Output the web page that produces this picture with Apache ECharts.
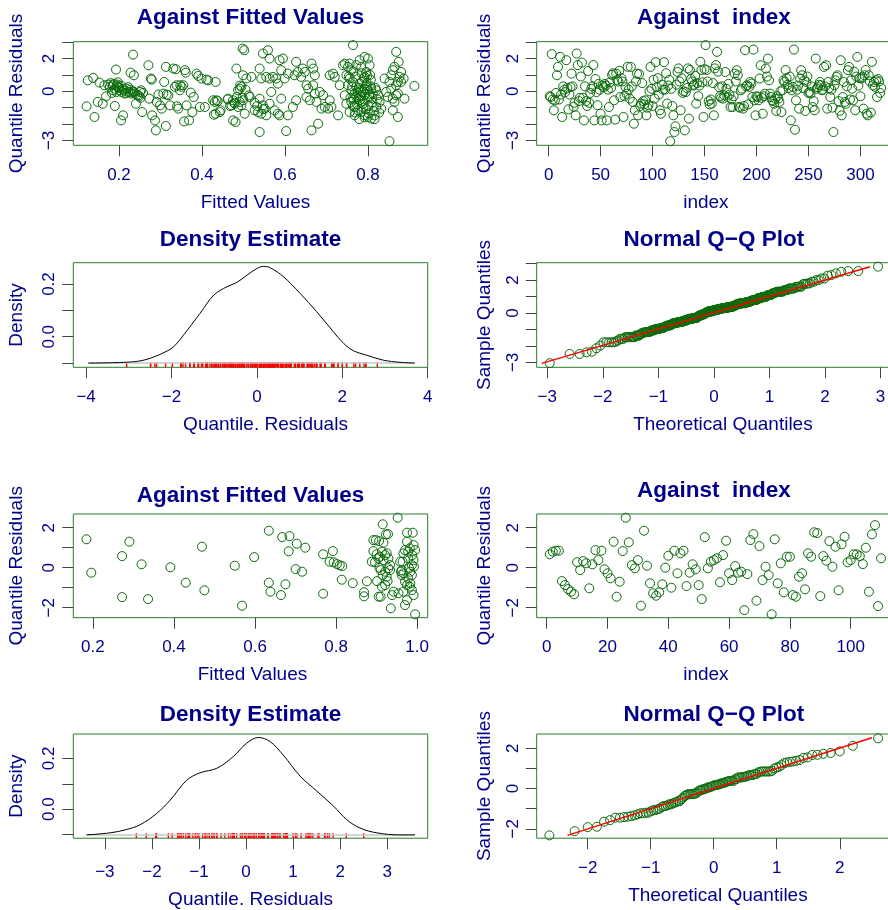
<!DOCTYPE html>
<html>
<head>
<meta charset="utf-8">
<title>Residual diagnostics</title>
<script src="https://cdn.jsdelivr.net/npm/echarts@6.0.0/dist/echarts.min.js"></script>
<style>
  html, body { margin: 0; padding: 0; background: #fff; }
  #main { width: 888px; height: 910px; }
</style>
</head>
<body>
<div id="main"></div>
<script>
// ---- model 1: (fitted value, quantile residual) pairs
var fitted1 = [
  [0.122,-0.92],[0.141,-1.57],[0.125,0.67],[0.138,0.82],[0.153,0.53],[0.149,-0.65],[0.161,-0.76],[0.169,-0.31],[0.165,0.37],[0.174,0.41],
  [0.178,0.27],[0.185,0.37],[0.190,0.16],[0.196,0.41],[0.199,0.27],[0.202,0.06],[0.194,-0.04],[0.186,0.06],[0.206,-0.04],[0.210,0.16],
  [0.214,-0.14],[0.218,0.16],[0.222,-0.04],[0.226,-0.04],[0.230,-0.14],[0.234,0.0],[0.238,-0.14],[0.244,-0.2],[0.251,-0.04],[0.253,0.06],
  [0.249,-0.31],[0.193,1.33],[0.190,-0.90],[0.205,-1.78],[0.210,-1.47],[0.234,2.24],[0.228,1.14],[0.236,0.98],[0.241,-0.76],[0.256,-1.27],
  [0.271,1.59],[0.277,0.78],[0.279,0.71],[0.273,-0.45],[0.280,-1.47],[0.287,-1.78],[0.289,-2.39],[0.291,-0.65],[0.295,-0.2],[0.299,-0.86],
  [0.303,-1.06],[0.307,-0.14],[0.309,0.57],[0.313,1.49],[0.315,-0.2],[0.313,-2.12],[0.319,-0.24],[0.323,-0.86],[0.331,1.39],[0.337,1.35],
  [0.335,0.27],[0.339,0.37],[0.340,-0.92],[0.343,-1.06],[0.347,0.06],[0.348,0.37],[0.351,0.27],[0.355,0.37],[0.359,1.29],[0.361,1.14],
  [0.357,-1.84],[0.363,-0.86],[0.369,-1.78],[0.373,-0.08],[0.377,-1.27],[0.380,-0.35],[0.387,1.08],[0.391,0.94],[0.395,-0.96],[0.399,0.78],
  [0.407,-0.96],[0.411,0.71],[0.415,0.67],[0.429,-1.43],[0.431,-0.65],[0.435,-0.55],[0.433,0.57],[0.443,-1.27],[0.463,-0.45],[0.471,-0.86],
  [0.475,-1.78],[0.481,-1.88],[0.483,1.39],[0.487,0.06],[0.491,0.16],[0.495,0.27],[0.491,-0.65],[0.498,2.61],[0.502,2.51],[0.499,0.98],
  [0.503,-1.37],[0.495,-0.86],[0.507,0.78],[0.479,-0.76],[0.487,-0.96],[0.499,-0.55],[0.475,-0.55],
  [0.519,0.88],[0.515,-0.35],[0.539,1.39],[0.547,2.31],[0.559,2.51],[0.563,2.0],[0.543,0.78],[0.555,0.88],[0.563,0.78],[0.571,0.88],
  [0.579,0.78],[0.583,0.47],[0.587,1.90],[0.595,2.0],[0.591,1.29],[0.599,0.78],[0.607,1.08],[0.539,-0.45],[0.547,-0.86],[0.551,-1.06],
  [0.543,-1.37],[0.555,-1.47],[0.527,-1.16],[0.535,-1.27],[0.567,-0.04],[0.563,-0.76],[0.575,-1.16],[0.583,-1.37],[0.587,-1.47],[0.591,-0.45],
  [0.607,-1.47],[0.619,-0.96],[0.627,-0.55],[0.539,-2.49],[0.603,-2.43],[0.627,1.80],[0.631,1.18],[0.623,0.98],[0.643,1.39],[0.639,0.88],
  [0.648,1.18],[0.652,0.37],[0.656,0.16],[0.652,-0.35],[0.660,-0.55],[0.664,1.69],[0.668,1.39],[0.672,0.98],[0.668,0.37],[0.672,-0.14],
  [0.676,-0.65],[0.684,-0.04],[0.692,-0.24],[0.688,-1.06],[0.696,-0.96],[0.708,-0.55],[0.704,-1.06],[0.712,-0.96],[0.664,-2.39],[0.680,-1.98],
  [0.728,-1.47],[0.708,0.98],[0.716,1.08],[0.720,0.88],[0.732,0.37],[0.740,1.59],[0.744,1.69],[0.752,1.49],[0.748,0.98],[0.760,1.29],
  [0.756,1.69],[0.764,2.82],[0.780,1.90],[0.784,1.49],[0.792,2.10],[0.800,2.0],[0.804,1.59],[0.796,1.18],[0.792,0.88],[0.744,-0.24],
  [0.748,-0.76],[0.752,0.37],[0.756,0.78],[0.760,0.06],[0.764,0.57],[0.768,-0.14],[0.772,0.27],[0.776,0.06],[0.780,0.47],[0.784,-0.24],
  [0.788,-0.04],[0.792,0.16],[0.796,0.37],[0.800,-0.45],[0.804,-0.14],[0.808,0.16],[0.760,-0.65],[0.768,-0.96],[0.776,-1.16],[0.784,-1.27],
  [0.792,-1.47],[0.800,-1.57],[0.808,-1.67],[0.816,-1.47],[0.820,-0.96],[0.824,-0.24],[0.828,-0.65],[0.832,-1.06],[0.756,-1.27],[0.780,-0.55],
  [0.768,-1.47],[0.772,-0.35],[0.788,-0.76],[0.812,-0.14],[0.820,0.06],[0.840,0.78],[0.844,-0.04],[0.848,-0.35],[0.852,0.57],[0.856,0.98],
  [0.860,1.29],[0.864,1.49],[0.856,0.16],[0.860,-0.45],[0.864,-0.65],[0.868,-0.24],[0.872,-0.14],[0.868,0.37],[0.872,0.57],[0.876,0.88],
  [0.880,1.18],[0.868,2.41],[0.874,1.80],[0.886,0.78],[0.888,-0.45],[0.880,0.57],[0.860,-1.16],[0.872,-1.57],[0.852,-3.05],[0.912,0.33],
  [0.762,0.3],[0.766,-0.5],[0.770,0.9],[0.774,-0.8],[0.778,0.2],[0.781,-0.3],[0.786,0.6],[0.789,-1.0],[0.793,-0.2],[0.797,0.5],
  [0.801,-0.9],[0.806,0.3],[0.810,-0.4],[0.814,-1.2],[0.818,0.2],[0.765,1.2],[0.772,1.6],[0.779,-1.7],[0.783,0.0],[0.787,-0.6],
  [0.791,0.8],[0.795,-1.1],[0.799,0.1],[0.803,-0.3],[0.807,0.7],[0.811,-0.7],[0.775,-0.1],[0.769,-1.3],[0.792,-1.6],[0.805,1.0],
  [0.758,-0.4],[0.754,0.9],[0.823,-0.5],[0.827,-1.3],[0.816,-1.7],[0.798,0.95],[0.785,1.1],[0.777,-0.45],[0.764,-0.9],[0.802,-1.35],
  [0.180,0.5],[0.188,0.45],[0.195,0.3],[0.200,0.2],[0.205,0.35],[0.212,0.05],[0.218,-0.1],[0.222,0.25],[0.228,0.1],[0.235,-0.05],
  [0.183,-0.1],[0.197,0.55],[0.247,-0.25],[0.252,-0.4],[0.258,-0.1],
  [0.427,-0.55],[0.438,-0.6],[0.433,-1.37],[0.445,-1.16],[0.462,-0.5],[0.468,-0.9],[0.478,-0.7],[0.484,-0.35],[0.492,0.35],[0.498,-0.4],
  [0.505,0.1],[0.513,-0.25],[0.527,-0.7],[0.533,-0.9],[0.548,-1.1]
];

// model 1: quantile residuals in index order (top-right panel)
var res1 = [
  -0.3,-0.35,2.27,-0.5,-1.16,-0.55,-0.1,0.98,1.49,-0.5,
  2.1,-0.2,-1.57,0.3,0.1,-0.05,1.9,0.2,-1.1,-0.2,
  0.25,1.08,0.3,-0.95,-0.7,-1.47,2.31,1.6,-0.6,-0.4,
  0.9,1.75,-0.4,-1.78,0.3,-0.6,-0.9,1.24,-0.7,-0.1,
  0.15,0.3,1.6,-1.78,0.75,-0.05,-0.85,0.45,0.1,-1.37,
  -1.78,0.35,0.25,0.45,0.35,-1.78,0.1,-0.96,0.55,0.2,
  1.0,1.1,-0.55,-1.73,1.08,0.7,0.6,1.25,-0.35,0.8,
  0.6,-1.57,-0.3,0.25,-0.15,1.5,0.1,-0.45,1.49,0.3,
  -0.65,-1.98,-1.16,0.6,1.08,-1.47,1.05,-0.9,-0.75,0.5,
  -0.6,-0.8,-0.55,-1.47,-1.0,-0.85,0.0,1.49,0.15,-0.9,
  0.7,-0.45,1.78,0.25,0.8,-0.2,-1.16,-1.37,0.4,0.1,
  1.78,0.1,1.1,-0.75,0.35,0.7,-3.05,0.15,-0.9,-1.47,
  -2.49,-2.14,0.4,1.18,1.4,0.6,-1.16,0.8,-0.1,0.0,
  -2.39,-0.05,0.2,1.4,-1.67,1.3,0.75,0.6,0.35,0.4,
  0.95,-0.75,0.5,-0.3,0.35,1.8,1.3,0.55,-1.57,1.35,
  2.82,1.3,0.6,-0.6,-0.8,-0.5,-0.75,0.5,-1.47,1.4,
  1.6,2.41,1.2,0.25,-0.3,-0.4,0.3,-0.45,-0.25,1.18,
  0.15,-0.35,0.45,-0.2,-0.96,-0.5,-0.96,-0.3,1.08,0.6,
  1.29,0.98,-0.95,-1.0,0.06,0.16,-1.06,-0.9,2.51,0.3,
  0.37,-0.8,0.27,0.57,0.47,-0.35,2.55,-0.55,-1.47,-0.3,
  -0.35,-0.55,0.78,1.59,-0.4,-1.37,-0.3,-0.15,1.39,0.9,
  2.0,0.67,-0.14,-0.35,-0.55,-0.6,-0.76,-0.45,-1.2,-0.3,
  -0.45,-0.65,0.0,-1.27,0.06,0.67,0.57,1.3,0.8,0.4,
  0.2,0.9,-1.78,0.06,0.27,2.55,-2.35,-0.55,0.1,0.35,
  -1.06,0.78,1.29,0.98,0.2,0.67,-1.2,0.57,0.9,-0.1,
  -0.04,-0.14,0.3,-0.96,-0.6,-1.16,2.0,0.16,0.25,0.4,
  0.57,0.37,0.06,0.1,1.49,0.3,1.59,-1.06,0.57,0.2,
  -0.35,0.1,-1.0,-2.49,0.37,0.67,0.88,0.98,-0.6,-1.2,
  1.9,-1.47,-0.35,0.57,-0.65,-0.76,0.3,1.29,1.49,-0.5,
  0.67,0.16,-0.55,1.2,-1.16,0.9,2.1,0.35,0.8,-0.3,
  0.78,0.88,-1.06,0.98,1.3,-1.37,-1.47,0.98,0.6,-1.3,
  1.8,0.37,0.57,0.27,0.67,-0.35,0.75,0.6,-0.1,0.2
];

// model 1: density estimate as drawn (x, y on the plotted scale)
var dens1X = [-3.95,-2.89,-2.5,-2.1,-1.95,-1.72,-1.33,-1.01,-0.70,-0.47,-0.23,0,0.16,0.31,0.62,1.01,1.40,1.79,2.03,2.26,2.57,2.96,3.35,3.70];
var dens1Y = [-0.1,-0.095,-0.082,-0.054,-0.038,0.006,0.089,0.158,0.19,0.206,0.234,0.259,0.267,0.262,0.228,0.165,0.095,0.019,-0.025,-0.053,-0.07,-0.089,-0.097,-0.1];
var densBase1 = -0.1;

// model 1: Q-Q reference line end points
var qqLine1X = [-3.1, 2.81];
var qqLine1Y = [-3.06, 2.81];

// ---- model 2: (fitted value, quantile residual) pairs
var fitted2 = [
  [0.184,1.42],[0.196,-0.25],[0.272,0.58],[0.272,-1.47],[0.290,1.30],[0.320,0.17],[0.336,-1.57],[0.391,0.02],[0.429,-0.75],[0.469,1.05],
  [0.475,-1.13],[0.550,0.10],[0.568,-1.90],[0.598,0.53],[0.634,1.85],[0.634,-0.75],[0.638,-1.2],[0.664,-1.37],[0.667,1.53],[0.675,-0.83],
  [0.683,0.82],[0.685,1.58],[0.700,-0.07],[0.703,1.2],[0.716,-0.2],[0.724,1.0],[0.768,0.67],[0.768,-1.3],[0.784,0.3],[0.792,0.83],
  [0.794,0.27],[0.802,0.18],[0.809,0.12],[0.815,0.08],[0.814,-0.6],[0.841,-0.77],[0.869,-1.23],[0.869,-1.43],[0.876,-0.68],[0.892,1.38],
  [0.898,1.38],[0.906,1.33],[0.915,2.17],[0.917,1.25],[0.923,1.67],[0.928,1.68],[0.892,0.83],[0.896,0.27],[0.900,0.67],[0.904,0.47],
  [0.908,0.55],[0.913,0.8],[0.917,0.38],[0.921,0.63],[0.925,0.72],[0.929,0.47],[0.907,0.0],[0.910,-0.12],[0.915,-0.37],[0.921,-0.2],
  [0.925,-0.45],[0.929,-0.03],[0.933,0.13],[0.901,-0.67],[0.913,-0.95],[0.921,-0.87],[0.910,-1.45],[0.935,-2.03],[0.938,-1.37],[0.952,2.5],
  [0.954,-1.28],[0.958,0.3],[0.962,-0.12],[0.966,0.72],[0.970,0.88],[0.975,1.75],[0.975,1.3],[0.978,0.47],[0.982,0.97],[0.989,1.75],
  [0.987,0.13],[0.991,0.38],[0.991,1.13],[0.962,-0.37],[0.966,-0.28],[0.970,-0.7],[0.975,-0.87],[0.978,-0.53],[0.982,-0.95],[0.987,-1.12],
  [0.991,-1.37],[0.970,-1.87],[0.975,-1.62],[0.995,-2.33],[0.980,-0.03],[0.983,-0.2],[0.988,0.63],[0.966,-1.2],[0.960,-0.2],[0.992,0.05],
  [0.978,0.8],[0.964,0.3],[0.995,0.88],[0.987,-0.37],[0.905,-1.45],[0.933,-0.12],[0.888,0.3],[0.942,-1.2],[0.927,-0.67],[0.983,-0.78]
];

// model 2: quantile residuals in index order
var res2 = [
  0.67,0.8,0.85,0.85,-0.67,-0.87,-1.07,-1.2,-1.33,0.27,
  -0.12,0.33,0.22,-1.03,0.17,0.88,0.38,0.85,-0.08,-0.28,
  -0.53,1.3,-1.45,-0.7,0.83,2.5,1.27,0.13,-0.03,0.38,
  -1.9,1.85,0.1,-0.78,-1.28,-1.4,-1.23,-0.83,0.0,0.6,
  -1.0,0.85,-0.28,0.72,0.85,-0.92,-0.25,0.17,-0.08,-0.87,
  -1.57,1.53,-0.03,0.3,0.38,0.47,-0.73,0.63,1.35,-0.28,
  -0.62,0.08,-0.25,-0.2,-2.12,-0.32,1.38,1.68,-1.65,1.08,
  -0.62,0.05,-0.37,-2.33,1.42,-0.78,0.22,-1.23,0.55,0.55,
  -1.37,-1.45,-0.45,-0.28,-1.08,0.72,0.55,1.77,1.73,-1.42,
  0.58,0.35,1.33,0.05,1.05,-1.13,1.17,1.55,0.27,0.38,
  0.67,0.67,0.58,0.18,1.0,-1.2,1.67,2.13,-1.92,0.47
];

var dens2X = [-3.39,-2.89,-2.54,-2.25,-1.90,-1.61,-1.26,-0.98,-0.62,-0.27,0.01,0.26,0.51,0.79,1.15,1.50,1.86,2.14,2.42,2.78,3.27,3.59];
var dens2Y = [-0.101,-0.093,-0.08,-0.061,-0.017,0.036,0.114,0.143,0.161,0.207,0.259,0.282,0.266,0.213,0.130,0.072,0.012,-0.041,-0.074,-0.093,-0.101,-0.101];
var densBase2 = -0.101;

var qqLine2X = [-2.32, 2.51];
var qqLine2Y = [-2.33, 2.53];

// ---- tick values per panel
var ticksFit1 = [0.2, 0.4, 0.6, 0.8];
var ticksIdx1 = [0, 50, 100, 150, 200, 250, 300];
var ticksDens1 = [-4, -2, 0, 2, 4];
var ticksQQ1 = [-3, -2, -1, 0, 1, 2, 3];
var ticksFit2 = [0.2, 0.4, 0.6, 0.8, 1.0];
var ticksIdx2 = [0, 20, 40, 60, 80, 100];
var ticksDens2 = [-3, -2, -1, 0, 1, 2, 3];
var ticksQQ2 = [-2, -1, 0, 1, 2];
var yTicksRes1 = [-3, -2, -1, 0, 1, 2, 3];
var yLabelsRes1 = [-3, 0, 2];
var yTicksRes2 = [-2, -1, 0, 1, 2];
var yLabelsRes2 = [-2, 0, 2];
var yTicksDens = [-0.1, 0, 0.1, 0.2];
var yLabelsDens = [0, 0.2];

// ---- layout (pixels) and styles
var navy = '#00008b';
var green = '#0b6b0b';
var boxGreen = '#2a7d2a';
var fontFam = '"Liberation Sans", Arial, Helvetica, sans-serif';
var colLeft = [73.3, 536.7];
var plotW = 354.4;
var rowTop = [41.7, 262.7, 514, 734];
var rowH = [103.6, 104.6, 103.7, 104.2];

// lm / ng: x label margin and name gap; shift: horizontal offset of the x axis name
var panels = [
  {c:0, r:0, x:[0.09, 0.944], y:[-3.3, 3.03], xt:ticksFit1, yt:yTicksRes1, yl:yLabelsRes1, xd:1, yd:0,
   title:'Against Fitted Values', titleY:6.5, xName:'Fitted Values', yName:'Quantile Residuals', lm:21.5, ng:48, shift:5},
  {c:1, r:0, x:[-11.5, 329.5], y:[-3.3, 3.03], xt:ticksIdx1, yt:yTicksRes1, yl:yLabelsRes1, xd:0, yd:0,
   title:'Against  index', titleY:6.5, xName:'index', yName:'Quantile Residuals', lm:21.5, ng:48, shift:-8},
  {c:0, r:1, x:[-4.3, 4.0], y:[-0.116, 0.281], xt:ticksDens1, yt:yTicksDens, yl:yLabelsDens, xd:0, yd:1,
   title:'Density Estimate', titleY:228.5, xName:'Quantile. Residuals', yName:'Density', lm:21.5, ng:48, shift:15},
  {c:1, r:1, x:[-3.19, 3.19], y:[-3.3, 3.06], xt:ticksQQ1, yt:yTicksRes1, yl:yLabelsRes1, xd:0, yd:0,
   title:'Normal Q\u2212Q Plot', titleY:228.5, xName:'Theoretical Quantiles', yName:'Sample Quantiles', lm:21.5, ng:48, shift:9},
  {c:0, r:2, x:[0.1516, 1.026], y:[-2.5, 2.685], xt:ticksFit2, yt:yTicksRes2, yl:yLabelsRes2, xd:1, yd:0,
   title:'Against Fitted Values', titleY:484, xName:'Fitted Values', yName:'Quantile Residuals', lm:21.5, ng:48, shift:2},
  {c:1, r:2, x:[-3.3, 113.3], y:[-2.5, 2.685], xt:ticksIdx2, yt:yTicksRes2, yl:yLabelsRes2, xd:0, yd:0,
   title:'Against  index', titleY:479.5, xName:'index', yName:'Quantile Residuals', lm:21.5, ng:48, shift:-8},
  {c:0, r:3, x:[-3.67, 3.86], y:[-0.114, 0.2957], xt:ticksDens2, yt:yTicksDens, yl:yLabelsDens, xd:0, yd:1,
   title:'Density Estimate', titleY:703.5, xName:'Quantile. Residuals', yName:'Density', lm:25.5, ng:52, shift:0},
  {c:1, r:3, x:[-2.81, 2.815], y:[-2.47, 2.715], xt:ticksQQ2, yt:yTicksRes2, yl:yLabelsRes2, xd:0, yd:0,
   title:'Normal Q\u2212Q Plot', titleY:703.5, xName:'Theoretical Quantiles', yName:'Sample Quantiles', lm:21.5, ng:48, shift:4}
];

// inverse standard normal cdf (Acklam), used for the theoretical quantiles
function qnorm(p) {
  var a = [-3.969683028665376e+01, 2.209460984245205e+02, -2.759285104469687e+02, 1.383577518672690e+02, -3.066479806614716e+01, 2.506628277459239e+00];
  var b = [-5.447609879822406e+01, 1.615858368580409e+02, -1.556989798598866e+02, 6.680131188771972e+01, -1.328068155288572e+01];
  var c = [-7.784894002430293e-03, -3.223964580411365e-01, -2.400758277161838e+00, -2.549732539343734e+00, 4.374664141464968e+00, 2.938163982698783e+00];
  var d = [7.784695709041462e-03, 3.224671290700398e-01, 2.445134137142996e+00, 3.754408661907416e+00];
  var lo = 0.02425, q, r;
  if (p < lo) {
    q = Math.sqrt(-2 * Math.log(p));
    return (((((c[0]*q+c[1])*q+c[2])*q+c[3])*q+c[4])*q+c[5]) / ((((d[0]*q+d[1])*q+d[2])*q+d[3])*q+1);
  }
  if (p > 1 - lo) {
    q = Math.sqrt(-2 * Math.log(1 - p));
    return -(((((c[0]*q+c[1])*q+c[2])*q+c[3])*q+c[4])*q+c[5]) / ((((d[0]*q+d[1])*q+d[2])*q+d[3])*q+1);
  }
  q = p - 0.5; r = q * q;
  return (((((a[0]*r+a[1])*r+a[2])*r+a[3])*r+a[4])*r+a[5])*q / (((((b[0]*r+b[1])*r+b[2])*r+b[3])*r+b[4])*r+1);
}

function qqPairs(res) {
  var s = res.slice().sort(function (a, b) { return a - b; });
  var n = s.length;
  return s.map(function (v, i) { return [qnorm((i + 0.5) / n), v]; });
}

function fmt(v, dec) {
  return Number(v).toFixed(dec).replace('-', '\u2212');
}

var grids = [], xAxes = [], yAxes = [], titles = [];
panels.forEach(function (p, k) {
  grids.push({
    left: colLeft[p.c], top: rowTop[p.r], width: plotW, height: rowH[p.r],
    show: true, borderColor: boxGreen, borderWidth: 1, backgroundColor: 'transparent',
    containLabel: false, outerBoundsMode: 'none'
  });
  xAxes.push({
    type: 'value', gridIndex: k, min: p.x[0], max: p.x[1],
    splitLine: {show: false},
    axisLine: {show: false, onZero: false},
    axisTick: {show: true, length: 11, customValues: p.xt, lineStyle: {color: '#444'}},
    axisLabel: {customValues: p.xt, margin: p.lm, color: navy, fontSize: 17, fontFamily: fontFam,
      formatter: (function (d) { return function (v) { return fmt(v, d); }; })(p.xd)},
    name: p.xName, nameLocation: 'middle', nameGap: p.ng, nameMoveOverlap: false,
    nameTextStyle: {color: navy, fontSize: 19, fontFamily: fontFam,
      padding: [0, Math.max(0, -2 * p.shift), 0, Math.max(0, 2 * p.shift)]}
  });
  yAxes.push({
    type: 'value', gridIndex: k, min: p.y[0], max: p.y[1],
    splitLine: {show: false},
    axisLine: {show: false, onZero: false},
    axisTick: {show: true, length: 11, customValues: p.yt, lineStyle: {color: '#444'}},
    axisLabel: {customValues: p.yl, rotate: 90, margin: 15, color: navy, fontSize: 17, fontFamily: fontFam,
      formatter: (function (d) { return function (v) { return fmt(v, d); }; })(p.yd)},
    name: p.yName, nameLocation: 'middle', nameGap: p.c === 0 ? 47 : 42, nameMoveOverlap: false,
    nameTextStyle: {color: navy, fontSize: 19, fontFamily: fontFam}
  });
  titles.push({
    text: p.title, left: colLeft[p.c] + plotW / 2, top: p.titleY, textAlign: 'center', padding: 0,
    textStyle: {color: navy, fontSize: 22.5, fontWeight: 'bold', fontFamily: fontFam}
  });
});

function circles(k, data) {
  return {
    type: 'scatter', xAxisIndex: k, yAxisIndex: k, data: data,
    symbol: 'circle', symbolSize: 9, clip: false, silent: true,
    itemStyle: {color: 'rgba(0,0,0,0)', borderColor: green, borderWidth: 1, opacity: 1}
  };
}
function curve(k, xs, ys, color, width, smooth) {
  return {
    type: 'line', xAxisIndex: k, yAxisIndex: k, showSymbol: false, smooth: smooth, silent: true,
    data: xs.map(function (x, i) { return [x, ys[i]]; }),
    lineStyle: {color: color, width: width}
  };
}
function rug(k, res, yBottom) {
  return {
    type: 'scatter', xAxisIndex: k, yAxisIndex: k, silent: true, clip: false,
    data: res.map(function (v) { return [v, yBottom]; }),
    symbol: 'rect', symbolSize: [1.4, 5], symbolOffset: [0, -2.5],
    itemStyle: {color: '#ff0000', opacity: 1}
  };
}
function indexed(res) {
  return res.map(function (v, i) { return [i + 1, v]; });
}

var series = [
  circles(0, fitted1),
  circles(1, indexed(res1)),
  curve(2, [dens1X[0], dens1X[dens1X.length - 1]], [densBase1, densBase1], '#c8c8c8', 1.5, false),
  rug(2, res1, panels[2].y[0]),
  curve(2, dens1X, dens1Y, '#000', 1, 0.35),
  circles(3, qqPairs(res1)),
  curve(3, qqLine1X, qqLine1Y, '#ff0000', 1.5, false),
  circles(4, fitted2),
  circles(5, indexed(res2)),
  curve(6, [dens2X[0], dens2X[dens2X.length - 1]], [densBase2, densBase2], '#c8c8c8', 1.5, false),
  rug(6, res2, panels[6].y[0]),
  curve(6, dens2X, dens2Y, '#000', 1, 0.35),
  circles(7, qqPairs(res2)),
  curve(7, qqLine2X, qqLine2Y, '#ff0000', 1.5, false)
];

var chart = echarts.init(document.getElementById('main'), null, {renderer: 'canvas'});
chart.setOption({
  animation: false,
  backgroundColor: '#ffffff',
  title: titles,
  grid: grids,
  xAxis: xAxes,
  yAxis: yAxes,
  series: series
});
</script>
</body>
</html>
